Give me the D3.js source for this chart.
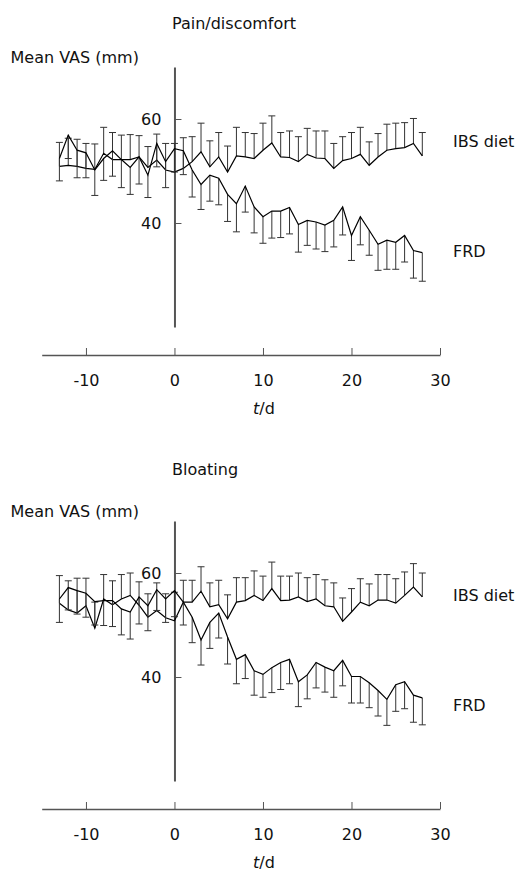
<!DOCTYPE html>
<html>
<head>
<meta charset="utf-8">
<script src="https://cdn.jsdelivr.net/npm/d3@7/dist/d3.min.js"></script>
<style>
body { margin: 0; background: #fff; }
text { font-family: "DejaVu Sans", Verdana, sans-serif; font-size: 16px; fill: #111; }
.axis path, .axis line { stroke: #555; }
</style>
</head>
<body>
<svg id="chart" width="519" height="872"></svg>
<script>
// study days
var days = [-13,-12,-11,-10,-9,-8,-7,-6,-5,-4,-3,-2,-1,0,1,2,3,4,5,6,7,8,9,10,11,12,13,14,15,16,17,18,19,20,21,22,23,24,25,26,27,28];
var xTicks = [-10, 0, 10, 20, 30];
var yTicks = [40, 60];
var seriesNames = ["IBS diet", "FRD"];
var panelTitles = ["Pain/discomfort", "Bloating"];

// pain/discomfort, mean VAS and error (IBS diet drawn up, FRD drawn down)
var painIBS = [50.9,51.1,50.9,50.5,50.3,53.4,52.2,52.2,52.2,52.7,50.7,52.1,50.2,49.8,50.5,51.8,53.7,50.8,52.7,49.8,52.9,52.7,52.4,54.0,55.4,52.7,52.6,51.8,53.2,52.5,52.4,50.5,52.0,52.4,53.2,51.1,52.7,54.0,54.3,54.5,55.3,52.9];
var painIBSErr = [4.6,5.2,5.2,4.8,4.9,5.0,5.2,4.7,4.8,4.1,4.0,5.0,5.1,5.5,5.9,4.8,5.5,5.0,4.7,5.0,5.5,4.7,4.8,5.2,5.2,4.7,5.1,4.8,5.0,5.2,5.3,4.8,4.6,5.0,5.2,4.5,4.5,5.0,4.9,4.8,4.8,4.5];
var painFRD = [52.4,56.9,54.0,53.5,50.2,52.4,53.9,52.2,50.7,52.7,49.2,55.3,51.8,54.3,53.9,50.2,47.4,49.2,48.6,45.5,43.7,47.1,43.1,41.2,42.3,42.3,43.0,39.7,40.5,40.2,39.6,40.5,43.1,37.6,41.2,38.6,35.9,36.7,36.3,37.6,34.7,34.3];
var painFRDErr = [4.3,4.5,5.3,4.8,4.9,4.2,4.9,5.4,5.2,5.2,4.3,4.5,5.0,4.5,4.6,5.2,4.8,5.0,5.1,5.2,5.4,5.0,5.0,5.1,5.2,5.1,5.1,5.3,4.8,5.2,5.1,5.1,5.4,4.8,5.4,4.8,5.0,5.6,5.2,5.1,5.3,5.5];

// bloating
var bloatIBS = [54.2,52.9,52.3,53.7,49.4,55.0,53.9,55.0,55.7,53.8,51.5,52.8,51.4,50.8,54.4,54.4,56.5,53.5,53.9,51.2,54.4,54.7,55.7,54.7,57.0,54.7,54.8,55.4,54.5,55.0,53.7,53.5,50.7,52.5,54.4,53.7,54.8,54.8,54.2,55.7,57.3,55.4];
var bloatIBSErr = [5.3,5.6,6.7,5.3,5.0,4.7,4.6,4.7,4.3,4.5,4.5,5.3,4.6,5.5,4.2,4.2,4.7,4.6,4.7,4.6,4.7,4.4,4.7,4.7,5.1,4.7,4.6,4.6,4.6,4.7,5.0,4.6,4.5,4.5,4.5,4.2,4.9,4.9,4.7,4.5,4.5,4.6];
var bloatFRD = [55.0,57.2,56.6,56.1,54.5,54.7,54.7,53.1,52.5,55.4,53.7,56.8,55.0,56.6,54.4,51.5,47.1,50.5,52.3,47.7,43.4,44.3,41.2,40.5,41.8,42.8,43.4,39.1,40.4,42.8,41.9,41.2,43.2,40.1,40.1,38.9,37.4,35.7,38.5,39.1,36.5,36.0];
var bloatFRDErr = [4.5,4.3,4.5,4.6,4.5,4.8,5.0,5.0,5.2,5.2,4.8,4.0,4.5,5.0,4.4,4.9,4.8,5.0,4.8,5.2,4.7,4.6,4.7,4.4,4.8,5.2,4.7,4.8,4.6,4.9,4.8,5.1,4.9,5.1,5.1,4.8,4.9,5.0,5.1,5.2,5.2,5.2];

var panels = [
  { title: panelTitles[0], top: 0, titleY: 29, ibs: painIBS, ibsErr: painIBSErr, frd: painFRD, frdErr: painFRDErr },
  { title: panelTitles[1], top: 454, titleY: 475 - 454, ibs: bloatIBS, ibsErr: bloatIBSErr, frd: bloatFRD, frdErr: bloatFRDErr }
];

var svg = d3.select("#chart");
var x = d3.scaleLinear().domain([-15, 30]).range([41.7, 440]);
var y = d3.scaleLinear().domain([20, 70]).range([327, 67]);
var capW = 3.5;

var line = d3.line().x(function(d){ return x(d.day); }).y(function(d){ return y(d.v); });

panels.forEach(function(p){
  var g = svg.append("g").attr("transform", "translate(0," + p.top + ")");

  g.append("text").attr("x", 172).attr("y", p.titleY).text(p.title);
  g.append("text").attr("x", 10.5).attr("y", 63).text("Mean VAS (mm)");

  // x axis, plain hyphen for negatives
  var xa = g.append("g").attr("class", "axis").attr("transform", "translate(0,355)")
    .call(d3.axisBottom(x).tickValues(xTicks).tickFormat(function(d){ return String(d); })
      .tickSizeInner(-7).tickSizeOuter(0));
  xa.select(".domain").attr("stroke-width", 1.4);
  xa.selectAll("text").attr("y", 31).attr("dy", null).style("font-size", "16px").style("font-family", null);

  g.append("text").attr("x", x(10) + 1).attr("y", 414).attr("text-anchor", "middle")
    .html('<tspan font-style="italic">t</tspan>/d');

  // y axis at day 0
  var ya = g.append("g").attr("class", "axis").attr("transform", "translate(" + x(0) + ",0)")
    .call(d3.axisLeft(y).tickValues(yTicks).tickSizeInner(-7).tickSizeOuter(0).tickPadding(13));
  ya.select(".domain").attr("stroke-width", 2).attr("stroke", "#444");
  ya.selectAll("text").style("font-size", "16px").style("font-family", null);

  var ibsData = days.map(function(d, i){ return { day: d, v: p.ibs[i], e: p.ibsErr[i] }; });
  var frdData = days.map(function(d, i){ return { day: d, v: p.frd[i], e: -p.frdErr[i] }; });

  [ibsData, frdData].forEach(function(data){
    var eb = g.append("g").attr("stroke", "#333").attr("stroke-width", 1).attr("fill", "none");
    eb.selectAll("path").data(data).enter().append("path")
      .attr("d", function(d){
        var x0 = x(d.day), y0 = y(d.v), y1 = y(d.v + d.e);
        return "M" + x0 + "," + y0 + "V" + y1 + "M" + (x0 - capW) + "," + y1 + "H" + (x0 + capW);
      });
    g.append("path").datum(data).attr("d", line)
      .attr("fill", "none").attr("stroke", "#000").attr("stroke-width", 1.2);
  });

  g.append("text").attr("x", 453).attr("y", 147).text(seriesNames[0]);
  g.append("text").attr("x", 453).attr("y", 257).text(seriesNames[1]);
});
</script>
</body>
</html>
